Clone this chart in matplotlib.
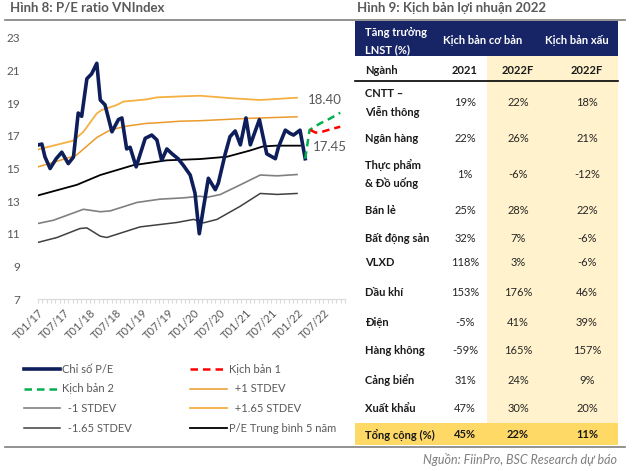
import matplotlib
matplotlib.use('Agg')
import matplotlib.pyplot as plt
from matplotlib.patches import Rectangle
from matplotlib.lines import Line2D

plt.rcParams['font.family'] = ['Lato', 'DejaVu Sans']

GRAY = '#595959'

# P/E VNIndex, x = months since Jan 2017
pe_t = [0, 0.9, 1.6, 2.8, 4.2, 5.5, 7.0, 8.2, 9.3, 10.1, 11.3, 12.4, 13.6, 14.4, 15.5,
        17.1, 18.6, 19.4, 20.5, 21.3, 22.7, 24.8, 26.3, 27.5, 28.6, 29.8, 31.0, 32.4,
        33.6, 35.2, 36.3, 37.3, 38.3, 39.4, 41.0, 41.7, 43.3, 44.4, 45.6, 46.8, 48.1,
        49.1, 51.2, 52.9, 54.9, 55.6, 57.2, 58.3, 59.1, 60.6, 61.8]
pe_v = [16.44, 16.5, 15.72, 15.0, 15.6, 16.0, 15.3, 15.7, 18.4, 18.2, 20.5, 20.8, 21.45, 19.2, 18.9,
        17.25, 18.0, 18.1, 16.2, 16.3, 15.1, 16.85, 17.05, 16.75, 15.5, 16.2, 15.9, 15.6,
        15.2, 14.6, 13.5, 11.0, 12.65, 14.4, 13.7, 14.1, 15.9, 16.95, 17.3, 16.45, 18.1,
        16.45, 18.0, 15.9, 15.6, 16.3, 17.35, 17.15, 17.05, 17.35, 15.6]

avg_t = [0, 9.0, 14.4, 22.0, 29.7, 37.5, 43.7, 49.0, 52.0, 55.0, 60.6]
avg_v = [13.35, 14.0, 14.6, 15.2, 15.5, 15.58, 15.72, 16.1, 16.35, 16.4, 16.4]

m1_t = [0, 3.6, 10.5, 14.4, 16.7, 22.9, 28.2, 33.6, 37.5, 39.0, 42.1, 46.8, 51.4, 55.3, 59.9]
m1_v = [11.63, 11.83, 12.5, 12.35, 12.4, 12.92, 13.12, 13.2, 13.3, 13.23, 13.4, 14.0, 14.6, 14.55, 14.63]

m165_t = [0, 4.4, 9.7, 11.3, 14.4, 15.9, 23.6, 32.1, 36.0, 38.3, 41.4, 46.8, 51.4, 55.3, 59.9]
m165_v = [10.47, 10.77, 11.32, 11.36, 10.85, 10.77, 11.42, 11.69, 11.88, 11.67, 11.88, 12.69, 13.47, 13.41, 13.47]

p1_t = [0, 6.6, 8.9, 13.6, 16.7, 20.5, 25.2, 27.5, 32.9, 37.5, 48.3, 59.9]
p1_v = [15.1, 15.62, 15.82, 16.9, 17.36, 17.6, 17.77, 17.8, 17.9, 17.93, 18.07, 18.17]

p165_t = [0, 8.1, 10.5, 13.6, 14.7, 18.2, 19.7, 25.2, 27.5, 32.9, 37.5, 45.2, 51.4, 59.9]
p165_v = [16.17, 16.7, 17.25, 18.38, 18.58, 18.89, 19.1, 19.24, 19.36, 19.42, 19.46, 19.3, 19.2, 19.34]

kb1_t = [63.0, 64.2, 65.7, 67.6, 69.9]
kb1_v = [17.36, 17.2, 17.25, 17.4, 17.56]
kb2_t = [61.8, 62.8, 65.3, 67.6, 69.9]
kb2_v = [15.6, 17.36, 17.77, 18.07, 18.42]

tick_labels = ['T01/17', 'T07/17', 'T01/18', 'T07/18', 'T01/19', 'T07/19',
               'T01/20', 'T07/20', 'T01/21', 'T07/21', 'T01/22', 'T07/22']

# table data
sectors = ['CNTT –\nViễn thông', 'Ngân hàng', 'Thực phẩm\n& Đồ uống', 'Bán lẻ', 'Bất động sản',
           'VLXD', 'Dầu khí', 'Điện', 'Hàng không', 'Cảng biển', 'Xuất khẩu']
g2021 = ['19%', '22%', '1%', '25%', '32%', '118%', '153%', '-5%', '-59%', '31%', '47%']
base2022 = ['22%', '26%', '-6%', '28%', '7%', '3%', '176%', '41%', '165%', '24%', '30%']
bad2022 = ['18%', '21%', '-12%', '22%', '-6%', '-6%', '46%', '39%', '157%', '9%', '20%']
total_row = ['Tổng cộng (%)', '45%', '22%', '11%']

fig = plt.figure(figsize=(6.4, 4.71), dpi=100)
ax = fig.add_axes([38 / 640, 1 - 299 / 471, 307 / 640, 261 / 471])

ax.plot(m165_t, m165_v, color='#404040', lw=1.1, label='  -1.65 STDEV')
ax.plot(m1_t, m1_v, color='#808080', lw=1.2, label='  -1 STDEV')
ax.plot(avg_t, avg_v, color='black', lw=1.3, label='P/E Trung bình 5 năm')
ax.plot(p1_t, p1_v, color='#EB9A2C', lw=1.1, label='  +1 STDEV')
ax.plot(p165_t, p165_v, color='#F5B041', lw=1.3, label='  +1.65 STDEV')
ax.plot(pe_t, pe_v, color='#0E1E5B', lw=2.6, solid_joinstyle='round', label='Chỉ số P/E')
ax.plot(kb2_t, kb2_v, color='#00B050', lw=1.8, ls=(0, (3, 2)), label='Kịch bản 2')
ax.plot(kb1_t, kb1_v, color='#FF0000', lw=1.8, ls=(0, (3, 2)), label='Kịch bản 1')

ax.text(66.4, 19.2, '18.40', color=GRAY, fontsize=9.5, ha='center', va='center')
ax.text(67.6, 16.3, '17.45', color=GRAY, fontsize=9.5, ha='center', va='center')

ax.set_xlim(0, 71)
ax.set_ylim(7, 23)
ax.set_yticks(range(7, 24, 2))
ax.set_xticks(range(0, 67, 6))
ax.set_xticks(range(0, 72), minor=True)
ax.set_xticklabels(tick_labels, rotation=45, ha='right', rotation_mode='anchor',
                   fontsize=8, color=GRAY)
ax.tick_params(axis='y', length=0, pad=13, labelsize=8.5, labelcolor=GRAY)
ax.tick_params(axis='x', which='both', length=3, width=0.8, color='#D9D9D9', pad=3)
for s in ['top', 'right', 'left']:
    ax.spines[s].set_visible(False)
ax.spines['bottom'].set_color('#D9D9D9')

h, l = ax.get_legend_handles_labels()
order = ['Chỉ số P/E', 'Kịch bản 2', '  -1 STDEV', '  -1.65 STDEV',
         'Kịch bản 1', '  +1 STDEV', '  +1.65 STDEV', 'P/E Trung bình 5 năm']
hl = dict(zip(l, h))
fig.legend([hl[k] for k in order], order, ncol=2, loc='upper left',
           bbox_to_anchor=(18 / 640, 1 - 358 / 471), frameon=False, fontsize=8,
           handlelength=3.3, handletextpad=0.2, columnspacing=5.2, labelspacing=0.8,
           borderpad=0, labelcolor=GRAY)

# overlay for titles and table, in pixel coordinates
ov = fig.add_axes([0, 0, 1, 1])
ov.set_xlim(0, 640)
ov.set_ylim(471, 0)
ov.axis('off')

ov.text(10, 8, 'Hình 8: P/E ratio VNIndex', fontsize=9.5, fontweight='bold', color=GRAY, va='center')
ov.text(357, 8, 'Hình 9: Kịch bản lợi nhuận 2022', fontsize=9.5, fontweight='bold', color=GRAY, va='center')
ov.plot([5, 625], [20, 20], color='#7F7F7F', lw=1.2)
ov.plot([5, 625], [447, 447], color='#7F7F7F', lw=1.2)

ov.add_patch(Rectangle((355, 21), 263, 35, fc='#172466', ec='none'))
ov.add_patch(Rectangle((487, 56), 131, 367, fc='#FFF2CC', ec='none'))
ov.add_patch(Rectangle((355, 423), 263, 22, fc='#FFD966', ec='none'))
ov.plot([355, 618], [81, 81], color='black', lw=1.2)

col_x = [365, 465, 518, 587]
ov.text(365, 41.5, 'Tăng trưởng\nLNST (%)', color='white', fontsize=8, fontweight='bold',
        va='center', linespacing=1.7)
ov.text(483, 41, 'Kịch bản cơ bản', color='white', fontsize=8, fontweight='bold', ha='center', va='center')
ov.text(577, 41, 'Kịch bản xấu', color='white', fontsize=8, fontweight='bold', ha='center', va='center')

for x, t in zip(col_x, ['Ngành', '2021', '2022F', '2022F']):
    ov.text(x, 71, t, fontsize=8, fontweight='bold', ha='left' if x == 365 else 'center',
            va='center', color='#1a1a1a')

row_y = [103, 138, 174, 210, 239, 263, 293, 322, 351, 380, 409]
for y, name, a, b, c in zip(row_y, sectors, g2021, base2022, bad2022):
    ov.text(col_x[0], y, name, fontsize=8, fontweight='bold', va='center', linespacing=1.7, color='#1a1a1a')
    for x, v in zip(col_x[1:], [a, b, c]):
        ov.text(x, y, v, fontsize=8, ha='center', va='center', color='#262626')

for x, v in zip(col_x, total_row):
    ov.text(x, 435, v, fontsize=8, fontweight='bold', ha='left' if x == 365 else 'center',
            va='center', color='#1a1a1a')

ov.text(617, 460, 'Nguồn: FiinPro, BSC Research dự báo', fontsize=9, style='italic',
        color='#7F7F7F', ha='right', va='center')

fig.savefig('out.png', dpi=100)
